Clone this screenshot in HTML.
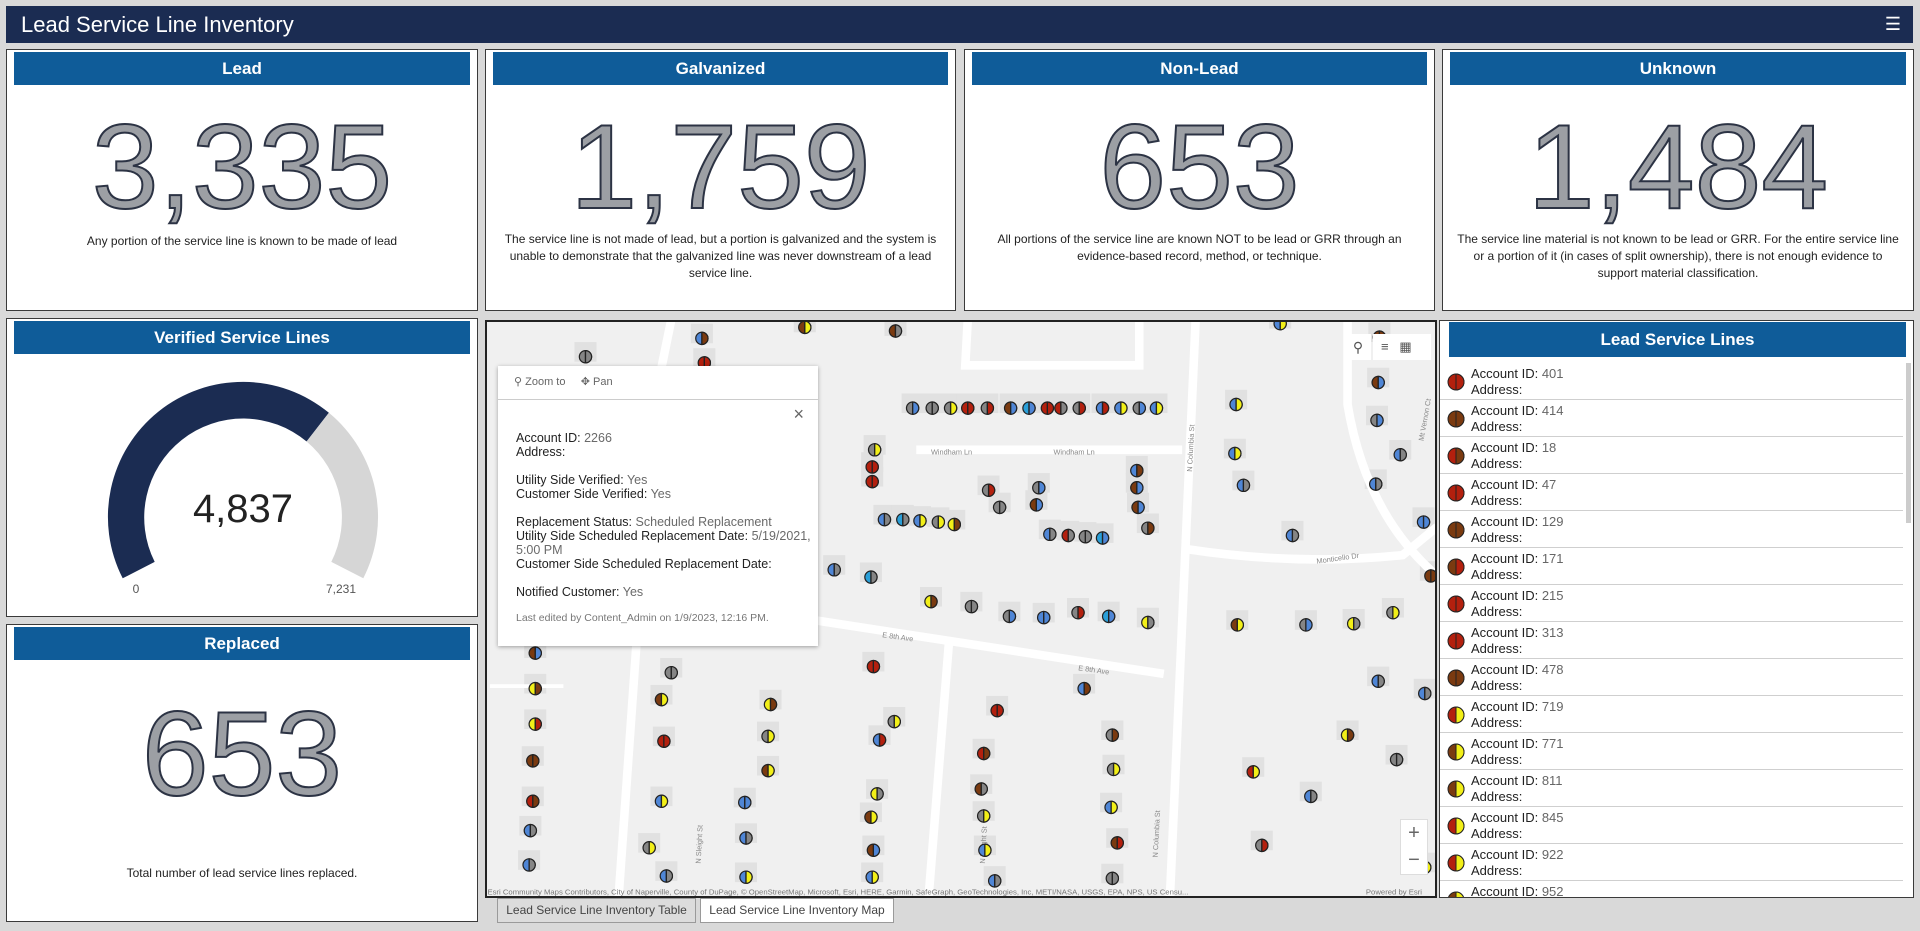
<!DOCTYPE html>
<html><head><meta charset="utf-8">
<style>
*{box-sizing:border-box;margin:0;padding:0}
body{width:1920px;height:931px;background:#d9d9d9;font-family:"Liberation Sans",sans-serif;position:relative;overflow:hidden;color:#222}
.abs{position:absolute}
.hdr{left:6px;top:6px;width:1907px;height:37px;background:#1b2c52;color:#fff;font-size:22px;line-height:37px;padding-left:15px}
.panel{position:absolute;background:#fff;border:1px solid #3a3a3a}
.ph{position:absolute;left:7px;right:7px;top:2px;height:33px;background:#0f5c99;color:#fff;font-weight:bold;font-size:17px;text-align:center;line-height:33px}
.big{position:absolute;left:0;right:0;text-align:center;font-size:120px;color:#9c9fa4;-webkit-text-stroke:2px #2c3344;line-height:1}
.desc{position:absolute;left:10px;right:10px;text-align:center;font-size:12px;line-height:17px;color:#222}
.pop{left:498px;top:366px;width:320px;height:280px;background:#fff;box-shadow:0 1px 4px rgba(0,0,0,.35);font-size:12.5px}
.pop b{font-weight:normal;color:#222}
.pop .v{color:#6a6a6a}
.row{position:absolute;left:0;right:10px;height:37px;border-bottom:1px solid #cfcfcf;font-size:13px;line-height:16px}
.btn{position:absolute;top:898px;height:25px;font-size:12px;line-height:23px;text-align:center;color:#444;border:1px solid #9a9a9a}
</style></head><body>
<div class="abs hdr">Lead Service Line Inventory<span style="position:absolute;right:12px;top:0;font-size:18px">&#9776;</span></div>

<div class="panel" style="left:6px;top:49px;width:472px;height:262px"><div class="ph">Lead</div><div class="big" style="top:57px">3,335</div><div class="desc" style="top:183px">Any portion of the service line is known to be made of lead</div></div>
<div class="panel" style="left:485px;top:49px;width:471px;height:262px"><div class="ph">Galvanized</div><div class="big" style="top:57px">1,759</div><div class="desc" style="top:181px">The service line is not made of lead, but a portion is galvanized and the system is unable to demonstrate that the galvanized line was never downstream of a lead service line.</div></div>
<div class="panel" style="left:964px;top:49px;width:471px;height:262px"><div class="ph">Non-Lead</div><div class="big" style="top:57px">653</div><div class="desc" style="top:181px;left:20px;right:20px">All portions of the service line are known NOT to be lead or GRR through an evidence-based record, method, or technique.</div></div>
<div class="panel" style="left:1442px;top:49px;width:472px;height:262px"><div class="ph">Unknown</div><div class="big" style="top:57px">1,484</div><div class="desc" style="top:181px">The service line material is not known to be lead or GRR. For the entire service line or a portion of it (in cases of split ownership), there is not enough evidence to support material classification.</div></div>

<div class="panel" style="left:6px;top:318px;width:472px;height:299px"><div class="ph">Verified Service Lines</div>
<svg class="abs" style="left:-6px;top:-318px" width="480" height="620">
<path d="M 121.7 577.3 A 135 135 0 0 1 327.9 411.8 L 305.6 440.5 A 99 99 0 0 0 153.7 560.9 Z" fill="#1b2c52"/>
<path d="M 327.9 411.8 A 135 135 0 0 1 362.3 577.3 L 330.3 560.9 A 99 99 0 0 0 305.6 440.5 Z" fill="#d6d6d6"/>
<text x="242" y="521" font-size="40" text-anchor="middle" fill="#222" font-family="Liberation Sans">4,837</text>
<text x="135" y="592" font-size="12" text-anchor="middle" fill="#555" font-family="Liberation Sans">0</text>
<text x="340" y="592" font-size="12" text-anchor="middle" fill="#555" font-family="Liberation Sans">7,231</text>
</svg></div>

<div class="panel" style="left:6px;top:624px;width:472px;height:298px"><div class="ph">Replaced</div><div class="big" style="top:69px">653</div><div class="desc" style="top:240px">Total number of lead service lines replaced.</div></div>

<div class="abs" style="left:485px;top:320px;width:952px;height:578px;border:2px solid #222;background:#f0f0f0;overflow:hidden">
<svg id="map" width="952" height="578" viewBox="396 261 777 472" preserveAspectRatio="none" style="position:absolute;left:-2px;top:-2px">
<g fill="#e1e1e1" id="bld"></g>
<g stroke="#fff" stroke-width="7" fill="none">
<path d="M976 261 L955 733"/>
<path d="M748 367 L965 367"/>
<path d="M968 448 Q1060 462 1145 453 L1173 430"/>
<path d="M560 490 L950 550"/>
<path d="M548 261 L540 300"/><path d="M520 520 L505 733"/>
<path d="M790 261 L788 298 L930 298 L930 261"/>
<path d="M775 520 L758 733"/><path d="M1100 261 L1100 330 Q1115 420 1173 470"/>
<path d="M400 560 L460 560" stroke-width="3"/>
</g>
<g font-family="Liberation Sans" font-size="6" fill="#888">
<text x="760" y="371">Windham Ln</text><text x="860" y="371">Windham Ln</text>
<text x="1075" y="460" transform="rotate(-8 1075 460)">Monticello Dr</text>
<text x="880" y="547" transform="rotate(8 880 547)">E 8th Ave</text>
<text x="720" y="520" transform="rotate(8 720 520)">E 8th Ave</text>
<text x="973" y="385" transform="rotate(-87 973 385)">N Columbia St</text>
<text x="945" y="700" transform="rotate(-87 945 700)">N Columbia St</text>
<text x="572" y="705" transform="rotate(-87 572 705)">N Sleight St</text>
<text x="804" y="705" transform="rotate(-87 804 705)">N Wright St</text>
<text x="1162" y="360" transform="rotate(-80 1162 360)">Mt Vernon Ct</text>
</g>
<g id="dots" stroke="#222" stroke-width="1"></g>
<text x="398" y="730" font-family="Liberation Sans" font-size="6.3" fill="#777">Esri Community Maps Contributors, City of Naperville, County of DuPage, © OpenStreetMap, Microsoft, Esri, HERE, Garmin, SafeGraph, GeoTechnologies, Inc, METI/NASA, USGS, EPA, NPS, US Censu...</text>
<text x="1115" y="730" font-family="Liberation Sans" font-size="6.3" fill="#777">Powered by Esri</text>
</svg>
<div class="abs" style="left:858px;top:12px;width:26px;height:26px;background:#fff;font-size:14px;text-align:center;line-height:26px;color:#555">&#9906;</div>
<div class="abs" style="left:886px;top:12px;width:58px;height:26px;background:#fff;font-size:13px;color:#555;line-height:26px;padding-left:8px">&#8801;&nbsp;&nbsp;&nbsp;&#9638;</div>
<div class="abs" style="left:913px;top:497px;width:28px;height:56px;background:#fff;border:1px solid #ddd;font-size:20px;color:#666;text-align:center;line-height:27px">+<br>&minus;</div>
</div>

<div class="abs pop">
<div style="position:absolute;left:16px;top:9px;color:#666;font-size:11px">&#9906; Zoom to&nbsp;&nbsp;&nbsp;&nbsp; &#10021; Pan</div>
<div style="position:absolute;left:0;right:0;top:33px;border-top:1px solid #ccc"></div>
<div style="position:absolute;right:14px;top:38px;font-size:18px;color:#666">&#215;</div>
<div style="position:absolute;left:18px;top:65px;line-height:14px">
<div><b>Account ID:</b> <span class="v">2266</span></div><div><b>Address:</b></div><br>
<div><b>Utility Side Verified:</b> <span class="v">Yes</span></div><div><b>Customer Side Verified:</b> <span class="v">Yes</span></div><br>
<div><b>Replacement Status:</b> <span class="v">Scheduled Replacement</span></div>
<div><b>Utility Side Scheduled Replacement Date:</b> <span class="v">5/19/2021,<br>5:00 PM</span></div>
<div><b>Customer Side Scheduled Replacement Date:</b></div><br>
<div><b>Notified Customer:</b> <span class="v">Yes</span></div>
<div style="margin-top:12px;font-size:10.5px;color:#777">Last edited by Content_Admin on 1/9/2023, 12:16 PM.</div>
</div></div>

<div class="btn" style="left:497px;width:199px;background:#dcdcdc">Lead Service Line Inventory Table</div>
<div class="btn" style="left:700px;width:194px;background:#fff">Lead Service Line Inventory Map</div>

<div class="panel" style="left:1439px;top:320px;width:475px;height:578px;overflow:hidden"><div class="ph" style="left:9px;right:7px;top:1px;height:35px;line-height:35px">Lead Service Lines</div>
<div id="list" style="position:absolute;left:0;right:0;top:0"></div>
<div style="position:absolute;right:2px;top:42px;width:5px;height:160px;background:#ccc"></div>
</div>

<script>
var C={r:"#b3200e",b:"#7a3a10",y:"#f2ef18",g:"#858585",u:"#4f86d6",c:"#2a9fd8"};
function dot(x,y,a,b,r){r=r||5;return '<circle cx="'+x+'" cy="'+y+'" r="'+r+'" fill="'+C[a]+'"/><path d="M'+x+' '+(y-r)+' A'+r+' '+r+' 0 0 1 '+x+' '+(y+r)+' Z" fill="'+C[b]+'"/><line x1="'+x+'" y1="'+(y-r)+'" x2="'+x+'" y2="'+(y+r)+'"/>';}
var D=[[478,291,"g","g"],[573,276,"u","b"],[575,296,"r","r"],[657,267,"b","y"],[731,270,"b","g"],
[745,333,"g","u"],[761,333,"g","g"],[776,333,"g","y"],[790,333,"r","r"],[806,333,"g","r"],[825,333,"b","u"],[840,333,"c","u"],[855,333,"r","r"],[866,333,"r","g"],[881,333,"g","r"],[900,333,"u","r"],[915,333,"u","y"],[930,333,"g","u"],[944,333,"u","y"],
[714,367,"g","y"],[712,381,"r","r"],[712,393,"r","r"],[722,424,"u","g"],[737,424,"c","g"],[751,425,"u","y"],[766,426,"g","y"],[779,428,"y","b"],
[807,400,"g","r"],[816,414,"g","g"],[848,398,"g","u"],[846,412,"b","u"],[928,384,"u","b"],[928,398,"b","u"],[929,414,"b","u"],[937,431,"g","b"],[857,436,"u","g"],[872,437,"r","g"],[886,438,"g","g"],[900,439,"c","u"],
[681,465,"u","g"],[711,471,"c","g"],[760,491,"y","b"],[793,495,"g","g"],[824,503,"g","u"],[852,504,"u","u"],[880,500,"g","r"],[905,503,"c","u"],[937,508,"y","g"],
[1045,264,"u","y"],[1126,275,"b","b"],[1009,330,"u","y"],[1125,312,"b","u"],[1124,343,"g","u"],[1008,370,"u","y"],[1143,371,"u","g"],[1123,395,"u","g"],[1162,426,"u","u"],[1015,396,"u","g"],[1055,437,"u","g"],
[1010,510,"b","y"],[1066,510,"g","u"],[1105,509,"y","g"],[1137,500,"g","y"],[1168,470,"b","b"],[1125,556,"u","g"],[1163,566,"u","g"],[1163,708,"u","y"],
[437,533,"b","u"],[437,562,"y","b"],[437,591,"y","r"],[435,621,"b","b"],[435,654,"r","b"],[433,678,"u","g"],[432,706,"u","g"],
[548,549,"g","g"],[540,571,"b","y"],[542,605,"r","r"],[540,654,"u","y"],[530,692,"g","y"],[544,715,"u","g"],
[629,575,"y","b"],[627,601,"g","y"],[627,629,"b","y"],[608,655,"u","u"],[609,684,"u","g"],[609,716,"u","y"],
[713,544,"r","r"],[730,589,"g","y"],[718,604,"u","r"],[716,648,"y","g"],[711,667,"b","y"],[713,694,"b","u"],[712,716,"u","y"],
[814,580,"r","r"],[803,615,"r","b"],[801,644,"b","g"],[803,666,"g","y"],[804,694,"u","y"],[812,719,"u","g"],
[885,562,"u","b"],[908,600,"g","b"],[909,628,"g","y"],[907,659,"u","y"],[912,688,"b","r"],[908,717,"g","g"],
[1023,630,"r","y"],[1070,650,"u","g"],[1030,690,"g","r"],[1100,600,"y","b"],[1140,620,"g","g"]];
var s="",bl="";
D.forEach(function(d){s+=dot(d[0],d[1],d[2],d[3]);bl+='<rect x="'+(d[0]-9)+'" y="'+(d[1]-12)+'" width="18" height="16" />';});
document.getElementById("dots").innerHTML=s;
document.getElementById("bld").innerHTML=bl;
var L=[[401,"r","r"],[414,"b","b"],[18,"r","b"],[47,"r","r"],[129,"b","b"],[171,"b","r"],[215,"r","r"],[313,"r","r"],[478,"b","b"],[719,"r","y"],[771,"b","y"],[811,"b","y"],[845,"r","y"],[922,"r","y"],[952,"b","y"]];
var h="";
L.forEach(function(l,i){var t=42+i*37;
h+='<div class="row" style="top:'+t+'px"><svg style="position:absolute;left:6px;top:9px" width="20" height="20"><g stroke="#222" stroke-width="1">'+
'<circle cx="10" cy="10" r="8" fill="'+C[l[1]]+'"/><path d="M10 2 A8 8 0 0 1 10 18 Z" fill="'+C[l[2]]+'"/></g></svg>'+
'<div style="position:absolute;left:31px;top:3px">Account ID: <span style="color:#666">'+l[0]+'</span><br>Address:</div></div>';});
document.getElementById("list").innerHTML=h;
</script>
</body></html>
